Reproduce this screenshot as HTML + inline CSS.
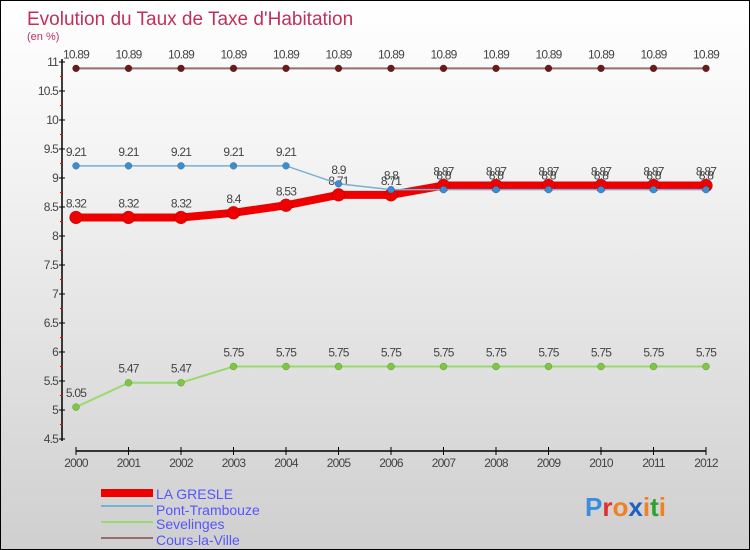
<!DOCTYPE html>
<html><head><meta charset="utf-8"><style>
body{margin:0}
#c{position:relative;width:748px;height:548px;border:1px solid #000;background:linear-gradient(#fff,#f3f3f3 30%,#cfcfcf);overflow:hidden;font-family:"Liberation Sans",sans-serif}
svg text{font-family:"Liberation Sans",sans-serif}
</style></head><body>
<div id="c">
<svg id="s" width="748" height="548">
<text x="26" y="24" font-size="19" fill="#c0305a">Evolution du Taux de Taxe d'Habitation</text>
<text x="26" y="39" font-size="11" fill="#c0305a">(en %)</text>
<g id="ax"></g><g id="series"></g>
<g>
<rect x="100" y="488" width="52" height="8" fill="#e00"/>
<text x="155" y="498" font-size="14" fill="#55f">LA GRESLE</text>
<line x1="100" x2="152" y1="505" y2="505" stroke="#7aaed6" stroke-width="2"/>
<text x="155" y="514" font-size="14" fill="#55f">Pont-Trambouze</text>
<line x1="100" x2="152" y1="521" y2="521" stroke="#9ad870" stroke-width="2"/>
<text x="155" y="528" font-size="14" fill="#55f">Sevelinges</text>
<line x1="100" x2="152" y1="537" y2="537" stroke="#9b6b6b" stroke-width="2"/>
<text x="155" y="544" font-size="14" fill="#55f">Cours-la-Ville</text>
</g>
<text x="584" y="515" font-size="26" font-weight="bold"><tspan fill="#3a8ee0">P</tspan><tspan fill="#e03030">r</tspan><tspan fill="#f08020">o</tspan><tspan fill="#2060c0">x</tspan><tspan fill="#f08020">i</tspan><tspan fill="#30a030">t</tspan><tspan fill="#f08020">i</tspan></text>
</svg></div>
<script>
const years=[2000,2001,2002,2003,2004,2005,2006,2007,2008,2009,2010,2011,2012];
const laGresle=[8.32,8.32,8.32,8.4,8.53,8.71,8.71,8.87,8.87,8.87,8.87,8.87,8.87];
const pontTrambouze=[9.21,9.21,9.21,9.21,9.21,8.9,8.8,8.8,8.8,8.8,8.8,8.8,8.8];
const sevelinges=[5.05,5.47,5.47,5.75,5.75,5.75,5.75,5.75,5.75,5.75,5.75,5.75,5.75];
const coursLaVille=[10.89,10.89,10.89,10.89,10.89,10.89,10.89,10.89,10.89,10.89,10.89,10.89,10.89];
const yTicks=[4.5,5,5.5,6,6.5,7,7.5,8,8.5,9,9.5,10,10.5,11];
const NS="http://www.w3.org/2000/svg";
const X=i=>75+i*52.5, Y=v=>61+(11-v)*58;
function mk(p,t,a){const e=document.createElementNS(NS,t);for(const k in a)e.setAttribute(k,a[k]);p.appendChild(e);return e;}
const ax=document.getElementById('ax');
let l=mk(ax,'line',{x1:61,x2:61,y1:58,y2:440,stroke:'#000','stroke-width':1.5});


l=mk(ax,'line',{x1:75,x2:705,y1:450,y2:450,stroke:'#000','stroke-width':1.5});


yTicks.forEach(v=>{mk(ax,'line',{x1:58,x2:64,y1:Y(v),y2:Y(v),stroke:'#000'});
 if(v<11)mk(ax,'line',{x1:59,x2:62,y1:Y(v+0.25),y2:Y(v+0.25),stroke:'#e00'});
 const t=mk(ax,'text',{x:57,y:Y(v)+4,'text-anchor':'end','font-size':12,fill:'#444','letter-spacing':'-0.8'});
 t.textContent=v;
 
 });
years.forEach((y,i)=>{mk(ax,'line',{x1:X(i),x2:X(i),y1:446,y2:454,stroke:'#000'});
 const t=mk(ax,'text',{x:X(i),y:466,'text-anchor':'middle','font-size':12,fill:'#444','letter-spacing':'-0.8'});
 t.textContent=y;
 
 });
const sg=document.getElementById('series');
function draw(name,vals,col,dot,w,r){
 const g=mk(sg,'g',{});
 
 
 mk(g,'polyline',{points:vals.map((v,i)=>X(i)+','+Y(v)).join(' '),fill:'none',stroke:col,'stroke-width':w});
 vals.forEach((v,i)=>{const c=mk(g,'circle',{cx:X(i),cy:Y(v),r:r,fill:dot,stroke:'rgba(0,0,0,0.3)','stroke-width':0.5});
  
  
  const t=mk(g,'text',{x:X(i),y:Y(v)-10,'text-anchor':'middle','font-size':12,fill:'#444','letter-spacing':'-0.8'});
  t.textContent=v;
  
  });
}
draw('la-gresle',laGresle,'#e00','#e00',8,6.5);
draw('cours-la-ville',coursLaVille,'#9b6b6b','#6b1a1a',2,3.5);
draw('sevelinges',sevelinges,'#9ad870','#7cc840',2,3.5);
draw('pont-trambouze',pontTrambouze,'#7aaed6','#3a8ed0',1.5,3.5);
</script></body></html>
